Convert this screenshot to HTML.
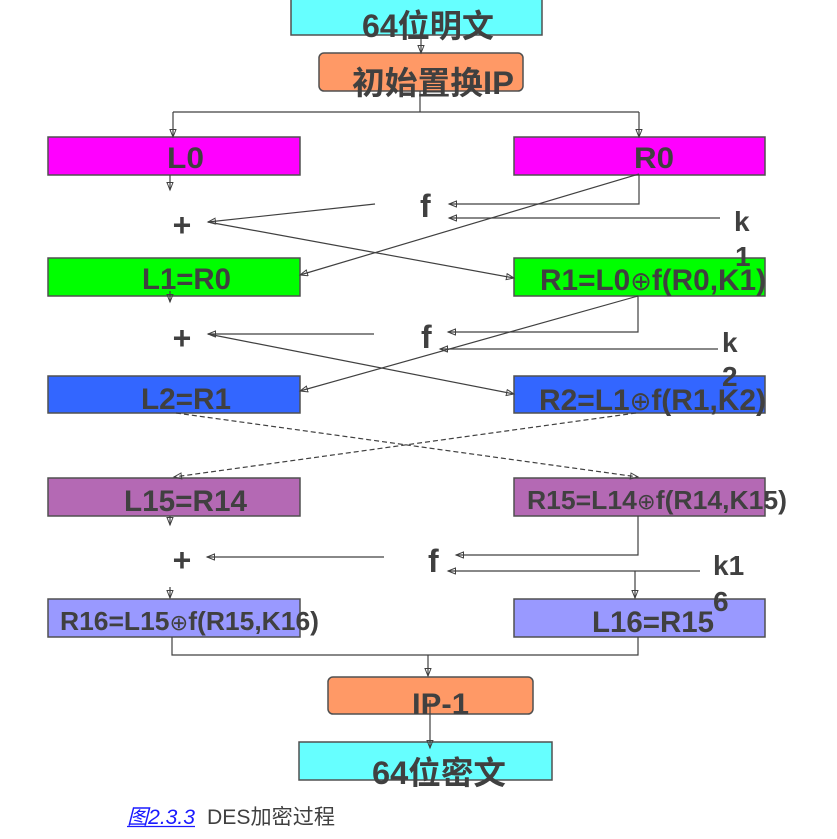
<!DOCTYPE html>
<html>
<head>
<meta charset="utf-8">
<style>
  html,body{margin:0;padding:0;background:#fff;}
  svg{display:block;}
  .t{font-family:"Liberation Sans","Noto Sans CJK SC",sans-serif;font-weight:bold;fill:#404040;}
  .o{font-family:"DejaVu Sans",sans-serif;font-weight:normal;}
</style>
</head>
<body>
<svg width="837" height="839" viewBox="0 0 837 839" xmlns="http://www.w3.org/2000/svg">
  <defs>
    <marker id="a" markerUnits="userSpaceOnUse" markerWidth="10" markerHeight="9" refX="8" refY="3.5" orient="auto">
      <path d="M0.5,0.5 L8,3.5 L0.5,6.5 Z" fill="none" stroke="#404040" stroke-width="1"/>
    </marker>
  </defs>

  <!-- boxes -->
  <g stroke="#505050" stroke-width="1.5">
    <rect x="291" y="-2" width="251" height="37" fill="#66FFFF"/>
    <rect x="319" y="53" width="204" height="38" rx="5" fill="#FF9966"/>
    <rect x="48" y="137" width="252" height="38" fill="#FF00FF"/>
    <rect x="514" y="137" width="251" height="38" fill="#FF00FF"/>
    <rect x="48" y="258" width="252" height="38" fill="#00FF00"/>
    <rect x="514" y="258" width="251" height="38" fill="#00FF00"/>
    <rect x="48" y="376" width="252" height="37" fill="#3366FF"/>
    <rect x="514" y="376" width="251" height="37" fill="#3366FF"/>
    <rect x="48" y="478" width="252" height="38" fill="#B469B4"/>
    <rect x="514" y="478" width="251" height="38" fill="#B469B4"/>
    <rect x="48" y="599" width="252" height="38" fill="#9999FF"/>
    <rect x="514" y="599" width="251" height="38" fill="#9999FF"/>
    <rect x="328" y="677" width="205" height="37" rx="5" fill="#FF9966"/>
    <rect x="299" y="742" width="253" height="38" fill="#66FFFF"/>
  </g>

  <!-- connectors -->
  <g stroke="#404040" stroke-width="1.2" fill="none">
    <line x1="421" y1="35" x2="421" y2="53" marker-end="url(#a)"/>
    <polyline points="420,91 420,112"/>
    <polyline points="173,112 639,112"/>
    <line x1="173" y1="112" x2="173" y2="137" marker-end="url(#a)"/>
    <line x1="639" y1="112" x2="639" y2="137" marker-end="url(#a)"/>

    <line x1="170" y1="175" x2="170" y2="190" marker-end="url(#a)"/>
    <polyline points="639,175 639,204 449,204" marker-end="url(#a)"/>
    <line x1="720" y1="218" x2="449" y2="218" marker-end="url(#a)"/>
    <line x1="375" y1="204" x2="208" y2="222" marker-end="url(#a)"/>
    <line x1="208" y1="222" x2="514" y2="278" marker-end="url(#a)"/>
    <line x1="639" y1="174" x2="300" y2="275" marker-end="url(#a)"/>

    <line x1="170" y1="291" x2="170" y2="302" marker-end="url(#a)"/>
    <polyline points="638,296 638,332 448,332" marker-end="url(#a)"/>
    <line x1="718" y1="349" x2="440" y2="349" marker-end="url(#a)"/>
    <line x1="374" y1="334" x2="208" y2="334" marker-end="url(#a)"/>
    <line x1="208" y1="334" x2="514" y2="394" marker-end="url(#a)"/>
    <line x1="638" y1="296" x2="300" y2="391" marker-end="url(#a)"/>

    <line x1="176" y1="413" x2="638" y2="477" stroke-dasharray="5,3" marker-end="url(#a)"/>
    <line x1="636" y1="413" x2="174" y2="477" stroke-dasharray="5,3" marker-end="url(#a)"/>

    <line x1="170" y1="516" x2="170" y2="525" marker-end="url(#a)"/>
    <polyline points="638,516 638,555 456,555" marker-end="url(#a)"/>
    <line x1="384" y1="557" x2="207" y2="557" marker-end="url(#a)"/>
    <line x1="700" y1="571" x2="448" y2="571" marker-end="url(#a)"/>
    <line x1="635" y1="571" x2="635" y2="598" marker-end="url(#a)"/>
    <line x1="170" y1="587" x2="170" y2="598" marker-end="url(#a)"/>

    <polyline points="172,637 172,655 638,655 638,637"/>
    <line x1="428" y1="655" x2="428" y2="676" marker-end="url(#a)"/>
    <line x1="430" y1="700" x2="430" y2="748" marker-end="url(#a)"/>
  </g>

  <!-- labels -->
  <text class="t" x="362" y="37" font-size="32" textLength="132" lengthAdjust="spacingAndGlyphs">64位明文</text>
  <text class="t" x="352" y="94" font-size="32" textLength="162" lengthAdjust="spacingAndGlyphs">初始置换IP</text>

  <text class="t" x="167" y="168" font-size="30" textLength="37" lengthAdjust="spacingAndGlyphs">L0</text>
  <text class="t" x="634" y="168" font-size="30" textLength="40" lengthAdjust="spacingAndGlyphs">R0</text>

  <text class="t" x="420" y="217" font-size="32">f</text>
  <text class="t" x="182" y="236" font-size="32" text-anchor="middle">+</text>
  <text class="t" x="734" y="231" font-size="28">k</text>
  <text class="t" x="735" y="266" font-size="28">1</text>

  <text class="t" x="142" y="289" font-size="30" textLength="89" lengthAdjust="spacingAndGlyphs">L1=R0</text>
  <text class="t" x="540" y="290" font-size="30" textLength="226" lengthAdjust="spacingAndGlyphs">R1=L0<tspan class="o" font-size="26">⊕</tspan>f(R0,K1)</text>

  <text class="t" x="421" y="348" font-size="32">f</text>
  <text class="t" x="182" y="349" font-size="32" text-anchor="middle">+</text>
  <text class="t" x="722" y="352" font-size="28">k</text>
  <text class="t" x="722" y="386" font-size="28">2</text>

  <text class="t" x="141" y="409" font-size="30" textLength="90" lengthAdjust="spacingAndGlyphs">L2=R1</text>
  <text class="t" x="539" y="410" font-size="30" textLength="227" lengthAdjust="spacingAndGlyphs">R2=L1<tspan class="o" font-size="26">⊕</tspan>f(R1,K2)</text>

  <text class="t" x="124" y="511" font-size="30" textLength="123" lengthAdjust="spacingAndGlyphs">L15=R14</text>
  <text class="t" x="527" y="509" font-size="26" textLength="260" lengthAdjust="spacingAndGlyphs">R15=L14<tspan class="o" font-size="22">⊕</tspan>f(R14,K15)</text>

  <text class="t" x="428" y="572" font-size="32">f</text>
  <text class="t" x="182" y="571" font-size="32" text-anchor="middle">+</text>
  <text class="t" x="713" y="575" font-size="28">k1</text>
  <text class="t" x="713" y="611" font-size="28">6</text>

  <text class="t" x="60" y="630" font-size="26" textLength="259" lengthAdjust="spacingAndGlyphs">R16=L15<tspan class="o" font-size="22">⊕</tspan>f(R15,K16)</text>
  <text class="t" x="592" y="632" font-size="30" textLength="122" lengthAdjust="spacingAndGlyphs">L16=R15</text>

  <text class="t" x="412" y="714" font-size="30" textLength="57" lengthAdjust="spacingAndGlyphs">IP-1</text>
  <text class="t" x="372" y="784" font-size="32" textLength="134" lengthAdjust="spacingAndGlyphs">64位密文</text>

  <!-- caption -->
  <text x="127" y="824" font-size="21" font-style="italic" fill="#1a1aff" font-family="Liberation Sans, Noto Sans CJK SC, sans-serif" textLength="68" lengthAdjust="spacingAndGlyphs">图2.3.3</text>
  <line x1="127" y1="826.5" x2="195" y2="826.5" stroke="#1a1aff" stroke-width="1.2"/>
  <text x="207" y="824" font-size="21" fill="#404040" font-family="Liberation Sans, Noto Sans CJK SC, sans-serif" textLength="128" lengthAdjust="spacingAndGlyphs">DES加密过程</text>
</svg>
</body>
</html>
